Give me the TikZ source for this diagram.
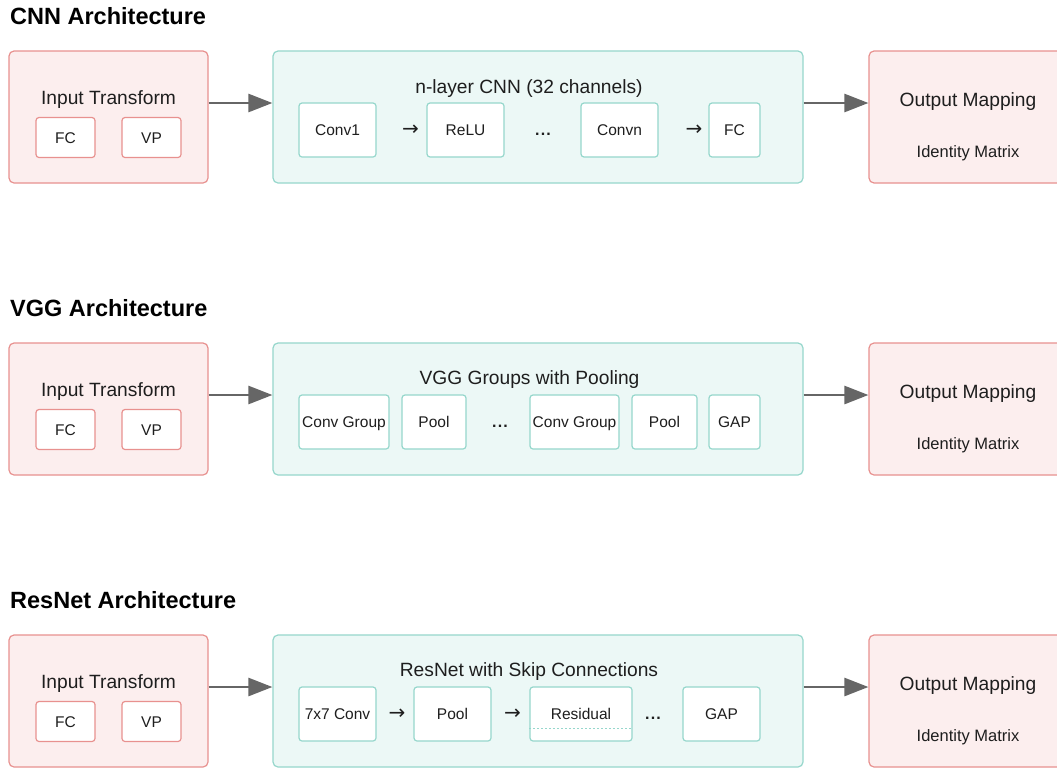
\documentclass[tikz,border=0pt]{standalone}
\usepackage{fontspec}
\setmainfont{Liberation Sans}
\newfontfamily\arrowfont{DejaVu Sans}
\usetikzlibrary{arrows.meta}

\definecolor{redline}{HTML}{E8918F}
\definecolor{redfill}{HTML}{FCEEEE}
\definecolor{tealline}{HTML}{96D7CC}
\definecolor{tealfill}{HTML}{ECF8F6}
\definecolor{ink}{HTML}{1E1E1E}
\definecolor{flowgray}{HTML}{666666}

\tikzset{
  heading/.style={font=\fontsize{23.5}{28}\selectfont\bfseries, text=black, anchor=base west, inner sep=0pt},
  boxlabel/.style={font=\fontsize{19.2}{23}\selectfont, text=ink, inner sep=0pt,
    text height=13.8pt, text depth=0pt},
  sublabel/.style={font=\fontsize{16.5}{20}\selectfont, text=ink, inner sep=0pt,
    text height=11.8pt, text depth=0pt},
  inbox/.style={draw=redline, fill=redfill, line width=1.2pt, rounded corners=5pt,
    minimum width=199pt, minimum height=132pt, inner sep=0pt},
  outbox/.style={inbox},
  midbox/.style={draw=tealline, fill=tealfill, line width=1.2pt, rounded corners=5pt,
    minimum width=530pt, minimum height=132pt, inner sep=0pt},
  redsub/.style={draw=redline, fill=white, line width=1.2pt, rounded corners=3pt,
    minimum width=59pt, minimum height=40pt, inner sep=0pt,
    font=\fontsize{15.5}{18}\selectfont, text=ink, text height=11.1pt, text depth=0pt},
  layer/.style={draw=tealline, fill=white, line width=1.2pt, rounded corners=3pt,
    minimum width=#1, minimum height=54pt, inner sep=0pt,
    font=\fontsize{15.5}{18}\selectfont, text=ink, text height=11.1pt, text depth=0pt},
  layer/.default=77pt,
  glyph/.style={font=\arrowfont\fontsize{20}{22}\selectfont, text=ink, inner sep=0pt},
  dots/.style={font=\fontsize{16}{18}\selectfont\bfseries, text=ink, inner sep=0pt, anchor=base},
  flow/.style={draw=flowgray, line width=2.6pt,
    -{Triangle[length=24pt,width=18pt]}},
  skip/.style={draw=tealline, line width=1pt, dash pattern=on 2pt off 2pt}
}
\newcommand{\ellip}{.\kern1.2pt.\kern1.2pt.}

\begin{document}
\begin{tikzpicture}[x=1pt,y=-1pt]
  \clip (0,0) rectangle (1057,769);
  \fill[white] (0,0) rectangle (1057,769);

  % the three rows share the input stage, the output stage and the flow arrows
  \foreach \r/\dy/\ttl in {c/0/CNN Architecture, v/292/VGG Architecture, r/584/ResNet Architecture}{
    \begin{scope}[shift={(0,\dy)}]
      \node[heading] (\r-title) at (10,24) {\ttl};
      \node[inbox] (\r-in) at (108.5,117) {};
      \node[boxlabel] (\r-inlbl) at (108.5,97.5) {Input Transform};
      \node[redsub] (\r-fc) at (65.5,137.5) {FC};
      \node[redsub] (\r-vp) at (151.5,137.5) {VP};
      \node[midbox] (\r-mid) at (538,117) {};
      \node[outbox] (\r-out) at (968.5,117) {};
      \node[boxlabel] (\r-outlbl) at (968,99.5) {Output Mapping};
      \node[sublabel] (\r-outsub) at (968,151.5) {Identity Matrix};
      \draw[flow] ([yshift=14pt]\r-in.east) -- ([yshift=14pt]\r-mid.west);
      \draw[flow] ([yshift=14pt]\r-mid.east) -- ([yshift=14pt]\r-out.west);
    \end{scope}
  }

  % CNN body
  \node[boxlabel] (c-head) at (529,86.5) {n-layer CNN (32 channels)};
  \node[layer] (c-conv1) at (337.5,130) {Conv1};
  \node[glyph] (c-a1) at (410.5,130) {→};
  \node[layer] (c-relu) at (465.5,130) {ReLU};
  \node[dots] (c-dots) at (543,135.5) {\ellip};
  \node[layer] (c-convn) at (619.5,130) {Convn};
  \node[glyph] (c-a2) at (694,130) {→};
  \node[layer=51pt] (c-fc) at (734.5,130) {FC};

  % VGG body
  \node[boxlabel] (v-head) at (529.5,378) {VGG Groups with Pooling};
  \node[layer=90pt] (v-g1) at (344,422) {Conv Group};
  \node[layer=64pt] (v-p1) at (434,422) {Pool};
  \node[dots] (v-dots) at (500,427.5) {\ellip};
  \node[layer=89pt] (v-g2) at (574.5,422) {Conv Group};
  \node[layer=65pt] (v-p2) at (664.5,422) {Pool};
  \node[layer=51pt] (v-gap) at (734.5,422) {GAP};

  % ResNet body
  \node[boxlabel] (r-head) at (529,669.5) {ResNet with Skip Connections};
  \node[layer] (r-conv) at (337.5,714) {7x7 Conv};
  \node[glyph] (r-a1) at (397,714) {→};
  \node[layer] (r-pool) at (452.5,714) {Pool};
  \node[glyph] (r-a2) at (512.5,714) {→};
  \node[layer=102pt] (r-res) at (581,714) {Residual};
  \draw[skip] ([yshift=13pt]r-res.south west) -- ([yshift=13pt]r-res.south east);
  \node[dots] (r-dots) at (653,719.5) {\ellip};
  \node[layer] (r-gap) at (721.5,714) {GAP};
\end{tikzpicture}
\end{document}
